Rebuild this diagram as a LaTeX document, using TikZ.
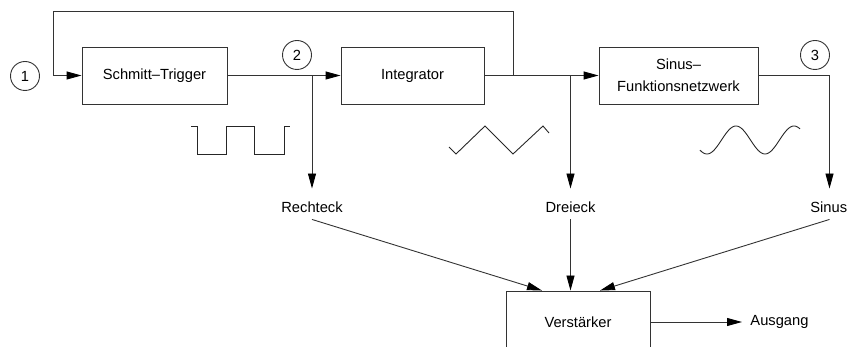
\documentclass[tikz,border=0pt]{standalone}
\usepackage{fontspec}
\setmainfont{Liberation Sans}
\usetikzlibrary{arrows.meta,calc}
\begin{document}
\begin{tikzpicture}[x=1pt,y=-1pt,
  line width=0.9pt, draw=black!80,
  font=\fontsize{14.7}{22}\selectfont,
  >={Triangle[length=15pt,width=8pt,color=black,fill=black]},
  block/.style={draw=black!80, line width=0.9pt, minimum height=57pt, inner sep=0pt, align=center},
  numcirc/.style={draw=black!80, line width=0.9pt, circle, minimum size=29pt, inner sep=0pt},
  sig/.style={anchor=base, inner sep=0pt, text height=23.3pt, text depth=6.7pt},
  wave/.style={draw=black!85, line width=0.9pt}
]
\useasboundingbox (0,0) rectangle (847,347);

% blocks
\node[block, minimum width=145pt] (schmitt) at (154.5,75.5) {Schmitt--Trigger};
\node[block, minimum width=143pt] (integ) at (412.5,75.5) {Integrator};
\node[block, minimum width=159pt] (sinus) at (678.5,75.5) {Sinus--\\Funktionsnetzwerk};
\node[block, minimum width=144pt, minimum height=62pt] (verst) at (578,322) {Verstärker};

% numbered circles
\node[numcirc] (c1) at (25,76) {1};
\node[numcirc] (c2) at (297,55) {2};
\node[numcirc] (c3) at (815,55) {3};

% signal labels
\node[sig] (rechteck) at (312,212.3) {Rechteck};
\node[sig] (dreieck) at (570.5,212.3) {Dreieck};
\node[sig] (sinusl) at (829.5,212.3) {\makebox[0pt]{\hspace*{-1.5pt}Sinus}};
\node[anchor=west, inner sep=0pt, inner xsep=8pt] (ausgang) at (742,322) {Ausgang};

% junctions
\coordinate (j2) at (312,75.5);
\coordinate (j3) at (513,75.5);
\coordinate (j4) at (570.5,75.5);
\coordinate (fbR) at (513,11);
\coordinate (fbL) at (53,11);

% connectors
\draw[->] (schmitt.east) -- (integ.west);
\draw[->] (integ.east) -- (sinus.west);
\draw[->] (j3) -- (fbR) -- (fbL) |- (schmitt.west);
\draw[->] (j2) -- (rechteck.north);
\draw[->] (j4) -- (dreieck.north);
\draw[->] (sinus.east) -| (sinusl.north);
\draw[->] (rechteck.south) -- ([xshift=-36pt]verst.north);
\draw[->] (dreieck.south) -- ([xshift=-7.5pt]verst.north);
\draw[->] (sinusl.south) -- ([xshift=22pt]verst.north);
\draw[->] (verst.east) -- (ausgang.west);

% waveforms
\draw[wave] (191,126) -- (197,126) -- (197,154) -- (226,154) -- (226,126) -- (254,126)
  -- (254,154) -- (284,154) -- (284,126) -- (290,126);
\draw[wave] (449,147) -- (456,154) -- (485,126) -- (513,154) -- (543,126) -- (549,133);
\draw[wave] plot[domain=-7:93, samples=80, smooth] ({\x+707},{140+14*cos(6.2069*\x)});
\end{tikzpicture}
\end{document}
